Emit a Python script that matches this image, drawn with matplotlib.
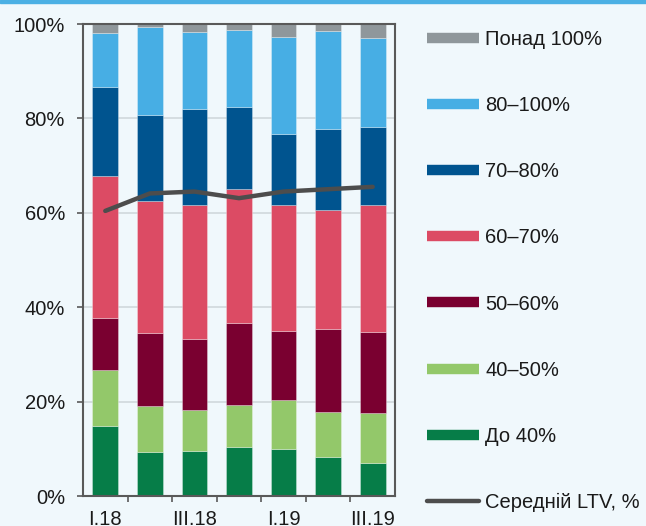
import matplotlib
matplotlib.use("Agg")
import matplotlib.pyplot as plt
import numpy as np
from matplotlib.lines import Line2D
from matplotlib.patches import Rectangle

plt.rcParams['font.family'] = ['Liberation Sans', 'DejaVu Sans']

quarters = ["I.18", "II.18", "III.18", "IV.18", "I.19", "II.19", "III.19"]
shown_labels = ["I.18", "", "III.18", "", "I.19", "", "III.19"]

# LTV band shares, % of portfolio
upto_40 = [14.8, 9.4, 9.5, 10.4, 10.0, 8.3, 7.0]
ltv_40_50 = [11.8, 9.7, 8.7, 8.9, 10.4, 9.6, 10.6]
ltv_50_60 = [11.2, 15.4, 15.1, 17.4, 14.6, 17.5, 17.2]
ltv_60_70 = [30.0, 28.1, 28.4, 28.3, 26.7, 25.2, 26.9]
ltv_70_80 = [18.8, 18.2, 20.3, 17.5, 15.1, 17.2, 16.5]
ltv_80_100 = [11.4, 18.6, 16.2, 16.3, 20.5, 20.8, 18.9]
over_100 = [2.0, 0.6, 1.8, 1.2, 2.7, 1.4, 2.9]

# Average LTV, %
avg_ltv = [60.4, 64.1, 64.5, 63.1, 64.5, 65.0, 65.5]

series = [
    ("До 40%", upto_40, "#067D48"),
    ("40–50%", ltv_40_50, "#93C86A"),
    ("50–60%", ltv_50_60, "#7A0030"),
    ("60–70%", ltv_60_70, "#DC4B64"),
    ("70–80%", ltv_70_80, "#00548F"),
    ("80–100%", ltv_80_100, "#47AEE4"),
    ("Понад 100%", over_100, "#8F979B"),
]

bg = "#F0F8FC"
fig = plt.figure(figsize=(6.46, 5.26), dpi=100, facecolor=bg)
fig.patches.append(Rectangle((0, 1 - 3 / 526), 1, 3 / 526, transform=fig.transFigure,
                             color="#4BB0E4", zorder=0))
ax = fig.add_axes([83 / 646, 1 - 496 / 526, 312 / 646, 472 / 526], facecolor=bg)

x = np.arange(len(quarters))
bottom = np.zeros(len(quarters))
for name, vals, col in series:
    vals = np.array(vals)
    ax.bar(x, vals, width=0.58, bottom=bottom, color=col,
           edgecolor=(1, 1, 1, 0.35), linewidth=0.6, zorder=2)
    bottom += vals

ax.plot(x, avg_ltv, color="#4D4D4D", lw=3.2, solid_capstyle="round",
        solid_joinstyle="round", zorder=3)

ax.set_xlim(-0.5, len(quarters) - 0.5)
ax.set_ylim(0, 100)
ax.set_yticks(np.arange(0, 101, 20))
ax.set_yticklabels([f"{v}%" for v in range(0, 101, 20)])
ax.yaxis.grid(True, color="#D3DBDF", lw=1.3, zorder=0)
ax.set_axisbelow(True)

ax.set_xticks(x)
ax.set_xticklabels(shown_labels)
ax.set_xticks(x[:-1] + 0.5, minor=True)
ax.tick_params(axis="x", which="major", length=0, pad=10, labelsize=14.5, colors="#1A1A1A")
ax.tick_params(axis="x", which="minor", length=4, width=1.2, color="#595959", direction="out")
ax.tick_params(axis="y", length=4, width=1.2, color="#595959", pad=9, labelsize=14.5,
               labelcolor="#1A1A1A")

for s in ax.spines.values():
    s.set_color("#595959")
    s.set_linewidth(1.5)

handles = [Line2D([0], [0], color=col, lw=7.5, solid_capstyle="butt")
           for _, _, col in reversed(series)]
labels = [name for name, _, _ in reversed(series)]
handles.append(Line2D([0], [0], color="#4D4D4D", lw=3.2, solid_capstyle="round"))
labels.append("Середній LTV, %")
fig.legend(handles, labels, loc="upper left", bbox_to_anchor=(427 / 646, 1 - 30 / 526),
           frameon=False, fontsize=14.5, handlelength=2.6, handletextpad=0.3,
           labelspacing=2.34, borderpad=0, borderaxespad=0, labelcolor="#1A1A1A")

fig.savefig("out.png", dpi=100, facecolor=bg)
